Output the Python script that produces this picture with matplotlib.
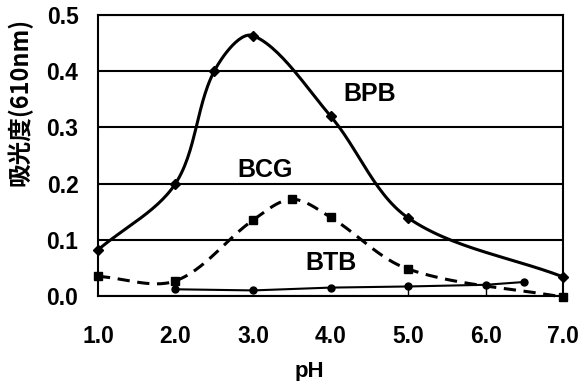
import numpy as np
import matplotlib
matplotlib.use("Agg")
from matplotlib import pyplot as plt

plt.rcParams['font.family'] = ['Liberation Sans', 'DejaVu Sans']
plt.rcParams['font.weight'] = 'bold'

# data
bpb_ph = [1.0, 2.0, 2.5, 3.0, 4.0, 5.0, 7.0]
bpb_abs = [0.082, 0.200, 0.400, 0.463, 0.320, 0.139, 0.034]

bcg_ph = [1.0, 2.0, 3.0, 3.5, 4.0, 5.0, 7.0]
bcg_abs = [0.035, 0.027, 0.135, 0.172, 0.140, 0.048, -0.002]

btb_ph = [2.0, 3.0, 4.0, 5.0, 6.0, 6.5]
btb_abs = [0.012, 0.010, 0.015, 0.017, 0.020, 0.025]

xticks = [1.0, 2.0, 3.0, 4.0, 5.0, 6.0, 7.0]
yticks = [0.0, 0.1, 0.2, 0.3, 0.4, 0.5]

# rough screen scale (px per data unit) so the smoothing is done on screen
SX, SY = 77.5, 562.0


def smooth(x, y, n=30):
    # bezier smoothing through the points, tangents scaled by chord length
    P = np.column_stack([np.asarray(x, float) * SX, np.asarray(y, float) * SY])
    P = np.vstack([P[0], P, P[-1]])
    t = np.linspace(0, 1, n)[:, None]
    segs = []
    for i in range(1, len(P) - 2):
        p0, p1, p2, p3 = P[i - 1], P[i], P[i + 1], P[i + 2]
        d01 = np.hypot(*(p1 - p0))
        d12 = np.hypot(*(p2 - p1))
        d23 = np.hypot(*(p3 - p2))
        c1 = p1 + (p2 - p0) * d12 / (3 * (d01 + d12))
        c2 = p2 - (p3 - p1) * d12 / (3 * (d12 + d23))
        segs.append((1 - t) ** 3 * p1 + 3 * (1 - t) ** 2 * t * c1
                    + 3 * (1 - t) * t ** 2 * c2 + t ** 3 * p2)
    out = np.vstack(segs)
    return out[:, 0] / SX, out[:, 1] / SY


fig = plt.figure(figsize=(5.83, 3.81), dpi=100)
ax = fig.add_axes([0.168, 0.223, 0.798, 0.738])

sx, sy = smooth(bpb_ph, bpb_abs)
ax.plot(sx, sy, color='black', lw=2.2, clip_on=False)
ax.plot(bpb_ph, bpb_abs, 'D', color='black', ms=5, clip_on=False)

sx, sy = smooth(bcg_ph, bcg_abs)
ax.plot(sx, sy, color='black', lw=2.2, ls=(0, (4, 2.5)), clip_on=False)
ax.plot(bcg_ph, bcg_abs, 's', color='black', ms=6, clip_on=False)

ax.plot(btb_ph, btb_abs, '-o', color='black', lw=1.5, ms=5, clip_on=False)
ax.vlines(btb_ph[3:5], 0, btb_abs[3:5], color='black', lw=1)

ax.text(4.5, 0.36, 'BPB', fontsize=18, ha='center', va='center')
ax.text(3.15, 0.224, 'BCG', fontsize=18, ha='center', va='center')
ax.text(4.0, 0.059, 'BTB', fontsize=18, ha='center', va='center')

ax.set_xlim(1.0, 7.0)
ax.set_ylim(0.0, 0.5)
ax.set_xticks(xticks)
ax.set_xticklabels(['%.1f' % v for v in xticks])
ax.set_yticks(yticks)
ax.set_yticklabels(['%.1f' % v for v in yticks])
ax.tick_params(length=0, labelsize=16.5)
ax.tick_params(axis='x', pad=21)
ax.tick_params(axis='y', pad=14)
ax.grid(axis='y', color='black', lw=1.5)
for s in ax.spines.values():
    s.set_linewidth(1.5)

ax.set_xlabel('pH', fontsize=16, fontweight='bold')
ax.xaxis.set_label_coords(0.454, -0.23)
ax.set_ylabel('吸光度(610nm)', fontsize=17, fontweight='bold',
              family=['Noto Sans CJK JP', 'Liberation Sans', 'DejaVu Sans'])
ax.yaxis.set_label_coords(-0.14, 0.69)

fig.savefig('out.png', dpi=100)
